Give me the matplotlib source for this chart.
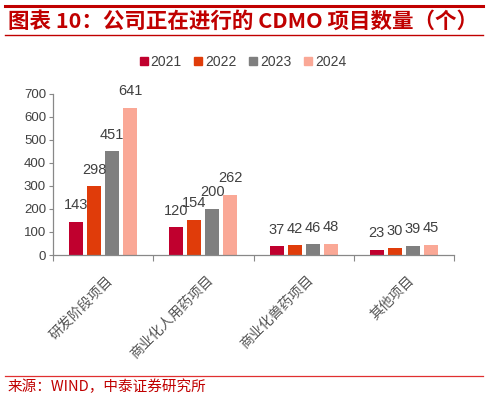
import matplotlib
matplotlib.use("Agg")
import matplotlib.pyplot as plt
import numpy as np
from matplotlib.lines import Line2D

categories = ["研发阶段项目", "商业化人用药项目", "商业化兽药项目", "其他项目"]
years = ["2021", "2022", "2023", "2024"]
v2021 = [143, 120, 37, 23]
v2022 = [298, 154, 42, 30]
v2023 = [451, 200, 46, 39]
v2024 = [641, 262, 48, 45]
series = [v2021, v2022, v2023, v2024]
colors = ["#C0002E", "#E03C0A", "#7F7F7F", "#FAA896"]

cjk = ["Noto Sans CJK SC", "DejaVu Sans"]
latin = ["Liberation Sans", "DejaVu Sans"]

fig = plt.figure(figsize=(4.88, 4.0), dpi=100)
ax = fig.add_axes([53/488, 1-255/400, (454-53)/488, (255-94)/400])

x = np.arange(len(categories))
bw = 0.14
step = 0.18
for i, (vals, c) in enumerate(zip(series, colors)):
    pos = x + (i - 1.5) * step
    ax.bar(pos, vals, width=bw, color=c, label=years[i], zorder=2)
    for p, v in zip(pos, vals):
        ax.annotate(str(v), (p, v), xytext=(0, 7), textcoords="offset points",
                    ha="center", va="bottom", fontsize=10.5, color="#404040",
                    family=latin)

ax.set_xlim(-0.5, len(categories) - 0.5)
ax.set_ylim(0, 700)
ax.set_yticks(range(0, 701, 100))
ax.tick_params(axis="y", labelsize=9.5, colors="#404040", length=3, width=0.8, pad=2)
for lab in ax.get_yticklabels():
    lab.set_family(latin)
ax.tick_params(axis="y", color="#888888")

ax.set_xticks(np.arange(-0.5, len(categories), 1.0))
ax.set_xticklabels([])
ax.tick_params(axis="x", length=4, width=0.8, color="#888888", direction="out")
for xi, cat in enumerate(categories):
    ax.annotate(cat, (xi, 0), xytext=(2, -13), textcoords="offset points",
                rotation=45, rotation_mode="anchor",
                ha="right", va="top", fontsize=10, color="#555555",
                family=cjk)

for s in ["top", "right"]:
    ax.spines[s].set_visible(False)
for s in ["left", "bottom"]:
    ax.spines[s].set_color("#888888")
    ax.spines[s].set_linewidth(0.9)

handles = [Line2D([0], [0], marker="s", linestyle="none", markersize=6,
                  markerfacecolor=c, markeredgecolor=c) for c in colors]
leg = fig.legend(handles, years, loc="center", bbox_to_anchor=(243/488, 1-62/400),
                 ncol=4, frameon=False, handlelength=0.6, handletextpad=0.2,
                 columnspacing=0.9, prop={"family": latin, "size": 10})
for t in leg.get_texts():
    t.set_color("#404040")

red = "#C00000"
fig.add_artist(Line2D([5/488, 483/488], [1-6/400, 1-6/400], color=red, lw=2.2))
fig.add_artist(Line2D([5/488, 483/488], [1-35/400, 1-35/400], color=red, lw=1.0))
fig.text(8/488, 1-21/400, "图表 10：公司正在进行的 CDMO 项目数量（个）", ha="left", va="center",
         fontsize=15.5, fontweight="bold", color=red, family=cjk, style="italic")

fig.add_artist(Line2D([5/488, 483/488], [1-376/400, 1-376/400], color="#E03030", lw=0.9))
fig.text(8/488, 1-387/400, "来源：WIND，中泰证券研究所", ha="left", va="center",
         fontsize=10.5, color=red, family=cjk)

fig.savefig("out.png", dpi=100)
